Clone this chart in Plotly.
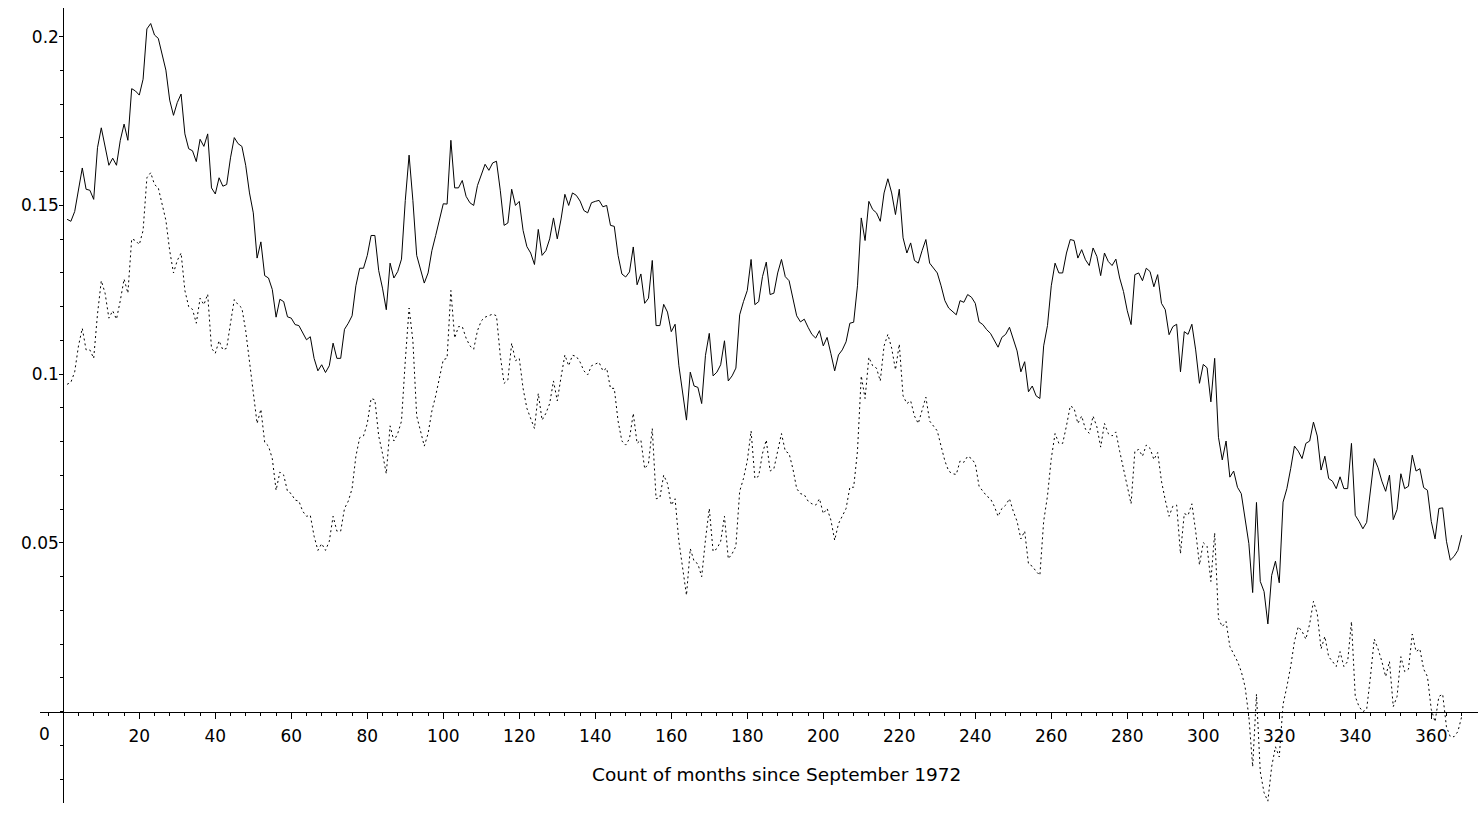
import plotly.graph_objects as go

months = list(range(1, 369))

solid = [
0.1459,0.1453,0.1482,0.1552,0.1611,0.1548,0.1545,0.1518,0.1671,0.1730,
0.1675,0.1619,0.1640,0.1619,0.1693,0.1741,0.1693,0.1846,0.1839,0.1827,
0.1874,0.2023,0.2039,0.2005,0.1995,0.1949,0.1901,0.1812,0.1767,0.1805,
0.1830,0.1712,0.1668,0.1662,0.1630,0.1696,0.1675,0.1712,0.1552,0.1534,
0.1582,0.1557,0.1562,0.1641,0.1701,0.1683,0.1675,0.1619,0.1537,0.1478,
0.1344,0.1392,0.1292,0.1285,0.1251,0.1169,0.1222,0.1215,0.1170,0.1166,
0.1147,0.1144,0.1121,0.1102,0.1111,0.1047,0.1010,0.1028,0.1005,0.1025,
0.1092,0.1047,0.1047,0.1133,0.1151,0.1173,0.1262,0.1314,0.1314,0.1352,
0.1411,0.1411,0.1307,0.1255,0.1191,0.1329,0.1285,0.1304,0.1341,0.1515,
0.1649,0.1515,0.1352,0.1314,0.1270,0.1300,0.1366,0.1411,0.1458,0.1505,
0.1504,0.1693,0.1552,0.1552,0.1574,0.1527,0.1508,0.1500,0.1559,0.1592,
0.1622,0.1604,0.1626,0.1631,0.1545,0.1441,0.1448,0.1548,0.1500,0.1512,
0.1426,0.1378,0.1359,0.1325,0.1429,0.1352,0.1366,0.1401,0.1463,0.1401,
0.1460,0.1533,0.1500,0.1537,0.1530,0.1513,0.1485,0.1478,0.1508,0.1512,
0.1515,0.1496,0.1500,0.1441,0.1438,0.1352,0.1297,0.1288,0.1303,0.1377,
0.1265,0.1297,0.1210,0.1225,0.1337,0.1144,0.1144,0.1207,0.1184,0.1126,
0.1148,0.1025,0.0951,0.0864,0.1006,0.0965,0.0961,0.0913,0.1056,0.1121,
0.0995,0.1006,0.1028,0.1099,0.0980,0.0995,0.1018,0.1176,0.1215,0.1248,
0.1340,0.1206,0.1215,0.1289,0.1332,0.1236,0.1240,0.1300,0.1340,0.1289,
0.1277,0.1225,0.1173,0.1155,0.1163,0.1139,0.1118,0.1107,0.1129,0.1084,
0.1109,0.1061,0.1010,0.1057,0.1072,0.1096,0.1151,0.1154,0.1262,0.1463,
0.1396,0.1512,0.1488,0.1478,0.1453,0.1537,0.1579,0.1537,0.1473,0.1548,
0.1404,0.1359,0.1389,0.1337,0.1329,0.1366,0.1399,0.1329,0.1314,0.1300,
0.1262,0.1218,0.1196,0.1185,0.1176,0.1218,0.1213,0.1236,0.1228,0.1210,
0.1155,0.1147,0.1132,0.1121,0.1102,0.1080,0.1109,0.1118,0.1139,0.1102,
0.1069,0.1007,0.1037,0.0948,0.0965,0.0936,0.0928,0.1084,0.1144,0.1262,
0.1329,0.1300,0.1300,0.1359,0.1399,0.1396,0.1344,0.1369,0.1339,0.1322,
0.1374,0.1349,0.1292,0.1359,0.1334,0.1322,0.1341,0.1285,0.1245,0.1188,
0.1147,0.1295,0.1300,0.1277,0.1314,0.1304,0.1259,0.1295,0.1210,0.1191,
0.1117,0.1141,0.1148,0.1007,0.1126,0.1118,0.1148,0.1072,0.0973,0.1029,
0.1019,0.0918,0.1047,0.0813,0.0746,0.0802,0.0695,0.0713,0.0665,0.0646,
0.0575,0.0498,0.0353,0.0620,0.0386,0.0356,0.0260,0.0404,0.0446,0.0382,
0.0621,0.0661,0.0720,0.0787,0.0772,0.0750,0.0795,0.0802,0.0858,0.0817,
0.0716,0.0757,0.0691,0.0683,0.0661,0.0696,0.0661,0.0661,0.0795,0.0582,
0.0564,0.0542,0.0561,0.0661,0.0750,0.0723,0.0683,0.0653,0.0701,0.0569,
0.0599,0.0705,0.0661,0.0668,0.0760,0.0713,0.0720,0.0664,0.0656,0.0564,
0.0512,0.0602,0.0604,0.0505,0.0449,0.0460,0.0478,0.0523,
]

dotted = [
0.0970,0.0976,0.1007,0.1084,0.1136,0.1072,0.1072,0.1047,0.1178,0.1277,
0.1240,0.1166,0.1188,0.1163,0.1218,0.1282,0.1240,0.1401,0.1396,0.1384,
0.1426,0.1582,0.1597,0.1562,0.1552,0.1508,0.1456,0.1366,0.1300,0.1337,
0.1359,0.1248,0.1200,0.1192,0.1151,0.1225,0.1206,0.1237,0.1077,0.1062,
0.1099,0.1072,0.1077,0.1151,0.1221,0.1206,0.1196,0.1129,0.1040,0.0958,
0.0854,0.0896,0.0798,0.0787,0.0750,0.0656,0.0710,0.0701,0.0653,0.0646,
0.0627,0.0624,0.0594,0.0579,0.0582,0.0520,0.0478,0.0498,0.0478,0.0505,
0.0579,0.0535,0.0535,0.0602,0.0624,0.0661,0.0757,0.0812,0.0817,0.0854,
0.0928,0.0924,0.0817,0.0765,0.0705,0.0847,0.0802,0.0824,0.0861,0.1040,
0.1196,0.1099,0.0876,0.0832,0.0787,0.0824,0.0891,0.0936,0.0995,0.1043,
0.1047,0.1248,0.1107,0.1141,0.1141,0.1107,0.1084,0.1074,0.1129,0.1158,
0.1169,0.1173,0.1178,0.1173,0.1055,0.0973,0.0983,0.1092,0.1040,0.1047,
0.0958,0.0899,0.0869,0.0839,0.0943,0.0864,0.0884,0.0913,0.0980,0.0921,
0.0992,0.1057,0.1025,0.1056,0.1053,0.1036,0.1010,0.0998,0.1025,0.1029,
0.1035,0.1010,0.1018,0.0958,0.0958,0.0861,0.0802,0.0790,0.0809,0.0884,
0.0795,0.0805,0.0720,0.0735,0.0839,0.0631,0.0634,0.0701,0.0676,0.0612,
0.0631,0.0505,0.0431,0.0345,0.0483,0.0446,0.0438,0.0400,0.0510,0.0602,
0.0475,0.0483,0.0505,0.0579,0.0453,0.0468,0.0490,0.0653,0.0691,0.0743,
0.0832,0.0691,0.0698,0.0765,0.0805,0.0713,0.0720,0.0772,0.0824,0.0772,
0.0765,0.0720,0.0661,0.0646,0.0643,0.0624,0.0616,0.0612,0.0631,0.0587,
0.0602,0.0568,0.0508,0.0557,0.0579,0.0602,0.0665,0.0665,0.0772,0.0995,
0.0928,0.1050,0.1025,0.1018,0.0980,0.1084,0.1118,0.1077,0.1013,0.1089,
0.0936,0.0913,0.0921,0.0876,0.0854,0.0891,0.0932,0.0861,0.0847,0.0832,
0.0787,0.0743,0.0713,0.0705,0.0703,0.0743,0.0739,0.0757,0.0750,0.0735,
0.0668,0.0653,0.0639,0.0631,0.0609,0.0579,0.0602,0.0612,0.0631,0.0594,
0.0564,0.0512,0.0535,0.0438,0.0431,0.0416,0.0404,0.0564,0.0639,0.0750,
0.0824,0.0795,0.0795,0.0847,0.0906,0.0899,0.0854,0.0876,0.0837,0.0825,
0.0876,0.0844,0.0784,0.0854,0.0824,0.0817,0.0829,0.0772,0.0720,0.0661,
0.0616,0.0772,0.0777,0.0757,0.0790,0.0780,0.0747,0.0768,0.0683,0.0627,
0.0579,0.0609,0.0612,0.0468,0.0587,0.0582,0.0616,0.0535,0.0435,0.0501,
0.0490,0.0386,0.0530,0.0276,0.0252,0.0267,0.0193,0.0171,0.0149,0.0119,
0.0074,-0.0015,-0.0163,0.0052,-0.0178,-0.0240,-0.0265,-0.0163,-0.0104,-0.0134,
0.0022,0.0074,0.0134,0.0208,0.0252,0.0238,0.0215,0.0260,0.0327,0.0290,
0.0186,0.0223,0.0163,0.0149,0.0134,0.0178,0.0134,0.0149,0.0267,0.0045,
0.0015,0.0000,0.0007,0.0104,0.0215,0.0186,0.0149,0.0104,0.0149,0.0015,
0.0045,0.0163,0.0119,0.0126,0.0230,0.0178,0.0186,0.0126,0.0104,0.0007,
-0.0030,0.0045,0.0052,-0.0045,-0.0074,-0.0074,-0.0059,-0.0015,
]

x_ticks = [20, 40, 60, 80, 100, 120, 140, 160, 180, 200, 220, 240, 260, 280, 300, 320, 340, 360]
x_minor = [-4, 4, 8, 12, 16, 24, 28, 32, 36, 44, 48, 52, 56, 64, 68, 72, 76, 84, 88, 92, 96,
           104, 108, 112, 116, 124, 128, 132, 136, 144, 148, 152, 156, 164, 168, 172, 176,
           184, 188, 192, 196, 204, 208, 212, 216, 224, 228, 232, 236, 244, 248, 252, 256,
           264, 268, 272, 276, 284, 288, 292, 296, 304, 308, 312, 316, 324, 328, 332, 336,
           344, 348, 352, 356, 364, 368]
y_ticks = [0.05, 0.1, 0.15, 0.2]
y_ticktext = ["0.05", "0.1", "0.15", "0.2"]
y_minor = [-0.02, -0.01, 0.0, 0.01, 0.02, 0.03, 0.04, 0.06, 0.07, 0.08, 0.09, 0.11, 0.12,
           0.13, 0.14, 0.16, 0.17, 0.18, 0.19, 0.2]
x_title = "Count of months since September 1972"

X_RANGE = [-6.13, 372.3]
Y_RANGE = [-0.02705, 0.2085]

FONT = dict(family="DejaVu Sans", size=17, color="black")
TITLE_FONT = dict(family="DejaVu Sans", size=18.5, color="black")

fig = go.Figure()
fig.add_trace(go.Scatter(x=months, y=solid, mode="lines",
                         line=dict(color="black", width=1), showlegend=False))
fig.add_trace(go.Scatter(x=months, y=dotted, mode="lines",
                         line=dict(color="black", width=1, dash="2px,3px"), showlegend=False))

xpos = (0 - Y_RANGE[0]) / (Y_RANGE[1] - Y_RANGE[0])
ypos = (0 - X_RANGE[0]) / (X_RANGE[1] - X_RANGE[0])

fig.update_layout(
    width=1478, height=833,
    margin=dict(l=40, r=0, t=8, b=30),
    paper_bgcolor="white", plot_bgcolor="white",
    font=FONT,
    xaxis=dict(range=X_RANGE, anchor="free", position=xpos,
               showline=True, linecolor="black", linewidth=1,
               showgrid=False, zeroline=False,
               ticks="outside", ticklen=6, tickcolor="black", tickwidth=1,
               tickmode="array", tickvals=x_ticks, ticktext=[str(v) for v in x_ticks],
               ticklabelstandoff=3,
               minor=dict(tickmode="array", tickvals=x_minor, ticks="outside",
                          ticklen=3, tickcolor="black", showgrid=False),
               tickfont=FONT),
    yaxis=dict(range=Y_RANGE, anchor="free", position=ypos,
               showline=True, linecolor="black", linewidth=1,
               showgrid=False, zeroline=False,
               ticks="outside", ticklen=4, tickcolor="black", tickwidth=1,
               tickmode="array", tickvals=y_ticks, ticktext=y_ticktext,
               ticklabelstandoff=-3,
               minor=dict(tickmode="array", tickvals=y_minor, ticks="outside",
                          ticklen=3, tickcolor="black", showgrid=False),
               tickfont=FONT),
    annotations=[
        dict(x=0, y=0, xref="x", yref="y", text="0", showarrow=False,
             xanchor="center", yanchor="middle", xshift=-19, yshift=-22, font=FONT),
        dict(x=187.8, y=-0.0185, xref="x", yref="y", text=x_title, showarrow=False,
             xanchor="center", yanchor="middle", font=TITLE_FONT),
    ],
)

fig.write_html("out.html", config={"displayModeBar": False},
               post_script="document.body.style.margin='0';")
